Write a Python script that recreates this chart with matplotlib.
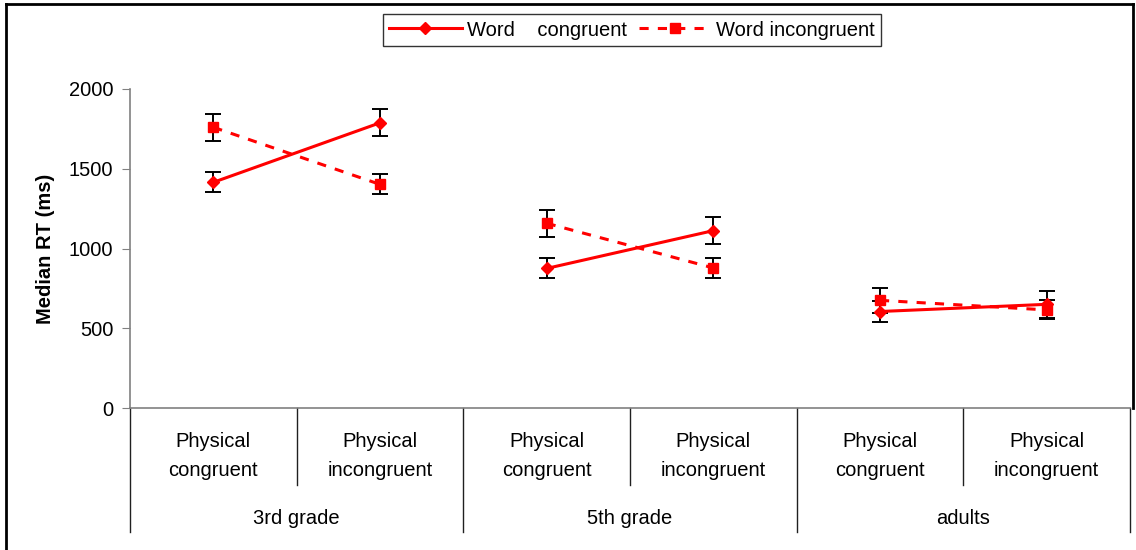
import matplotlib.pyplot as plt
import numpy as np
from matplotlib.lines import Line2D

plt.rcParams['font.family'] = ['Liberation Sans', 'DejaVu Sans']

groups = ['3rd grade', '5th grade', 'adults']
conds = ['Physical\ncongruent', 'Physical\nincongruent']

# median RT (ms), order: 3rd PC, 3rd PI, 5th PC, 5th PI, adults PC, adults PI
word_cong = [1415, 1788, 875, 1112, 605, 650]
word_cong_err = [63, 85, 63, 85, 63, 83]
word_incong = [1760, 1402, 1158, 878, 675, 615]
word_incong_err = [85, 63, 85, 60, 80, 60]

W, H = 1136, 550
fs = 14.5
fig = plt.figure(figsize=(W / 100, H / 100), dpi=100)
ax = fig.add_axes([130 / W, 1 - 408 / H, 1000 / W, 319 / H])

x = np.arange(6)
red = '#ff0000'

for g in range(3):
    idx = [2 * g, 2 * g + 1]
    ax.errorbar(x[idx], np.array(word_cong)[idx], yerr=np.array(word_cong_err)[idx],
                fmt='none', ecolor='black', elinewidth=1.4, capsize=6, capthick=1.4, zorder=2)
    ax.errorbar(x[idx], np.array(word_incong)[idx], yerr=np.array(word_incong_err)[idx],
                fmt='none', ecolor='black', elinewidth=1.4, capsize=6, capthick=1.4, zorder=2)
    ax.plot(x[idx], np.array(word_incong)[idx], color=red, lw=2.2, ls=(0, (3, 3)),
            marker='s', ms=7, zorder=3)
    ax.plot(x[idx], np.array(word_cong)[idx], color=red, lw=2.2, ls='-',
            marker='D', ms=6.5, zorder=4)

ax.set_xlim(-0.5, 5.5)
ax.set_ylim(0, 2000)
ax.set_yticks([0, 500, 1000, 1500, 2000])
ax.tick_params(axis='y', labelsize=fs, length=6, color='#808080', pad=6)
ax.set_xticks([])
for s in ['top', 'right']:
    ax.spines[s].set_visible(False)
for s in ['left', 'bottom']:
    ax.spines[s].set_color('#808080')
    ax.spines[s].set_linewidth(1.2)
ax.set_ylabel('Median RT (ms)', fontsize=14.5, fontweight='bold', labelpad=10)

# category axis: separators and labels
trans = ax.get_xaxis_transform()
for b in [0.5, 2.5, 4.5]:
    ax.plot([b, b], [0, -77 / 319], transform=trans, color='#202020', lw=1, clip_on=False)
for b in [-0.5, 1.5, 3.5, 5.5]:
    ax.plot([b, b], [0, -124 / 319], transform=trans, color='#202020', lw=1, clip_on=False)
for i in range(6):
    ax.text(x[i], -48 / 319, conds[i % 2], transform=trans, ha='center', va='center',
            fontsize=fs, linespacing=1.65)
for g in range(3):
    ax.text(2 * g + 0.5, -110 / 319, groups[g], transform=trans, ha='center', va='center',
            fontsize=fs)

handles = [Line2D([], [], color=red, lw=2.2, marker='D', ms=6.5),
           Line2D([], [], color=red, lw=2.2, ls=(0, (3, 3)), marker='s', ms=7)]
leg = fig.legend(handles, ['Word    congruent', 'Word incongruent'], ncol=2,
                 loc='center', bbox_to_anchor=(632 / W, 1 - 30 / H), fontsize=fs,
                 frameon=True, fancybox=False, edgecolor='black', borderpad=0.3,
                 handlelength=3.6, handletextpad=0.25, columnspacing=0.6)
leg.get_frame().set_linewidth(1)

# outer frame of the chart
fl = dict(color='black', lw=2, transform=fig.transFigure, clip_on=False)
fig.add_artist(Line2D([6 / W, 6 / W], [0, 1 - 4 / H], **fl))
fig.add_artist(Line2D([6 / W, 1133 / W], [1 - 4 / H, 1 - 4 / H], **fl))
fig.add_artist(Line2D([1133 / W, 1133 / W], [1 - 4 / H, 1 - 408 / H], **fl))

fig.savefig('out.png', dpi=100)
